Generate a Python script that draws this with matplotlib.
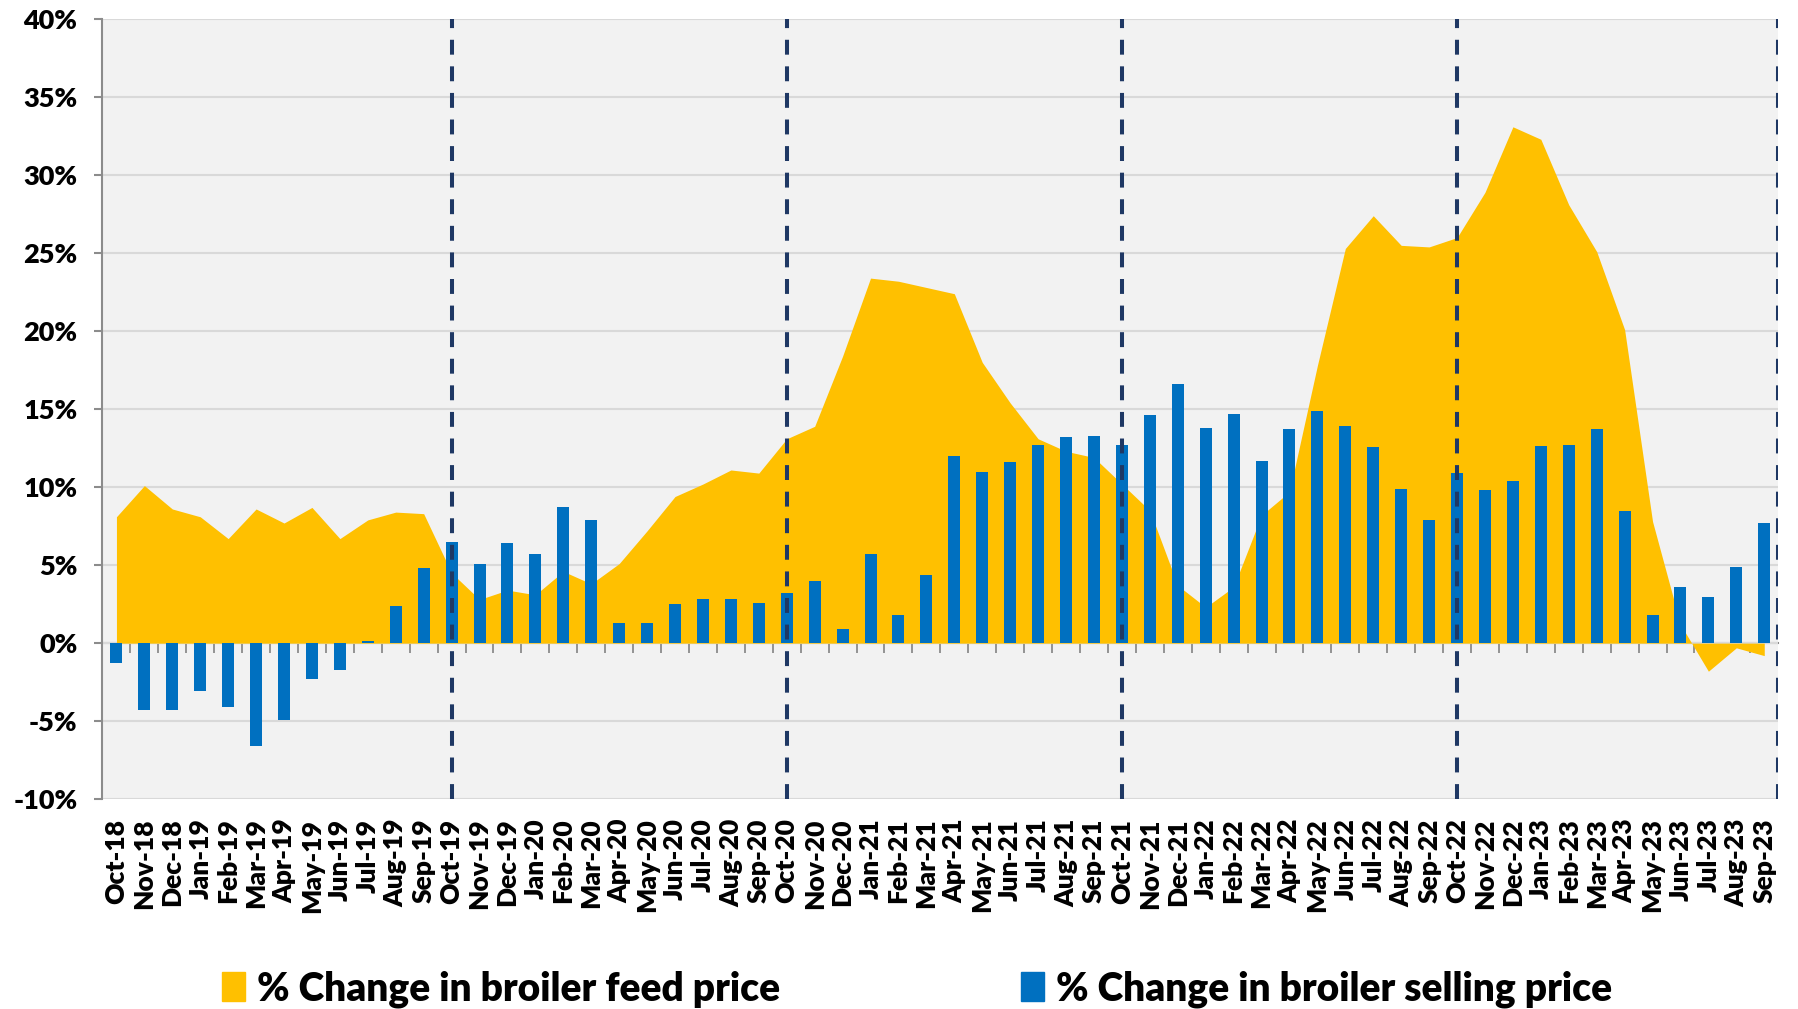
import matplotlib
matplotlib.use("Agg")
import matplotlib.pyplot as plt
import matplotlib.patches as mpatches
from matplotlib.ticker import FuncFormatter, FixedLocator
import numpy as np

# ── Données ──────────────────────────────────────────────────────
months = ["Oct-18", "Nov-18", "Dec-18", "Jan-19", "Feb-19", "Mar-19", "Apr-19", "May-19",
          "Jun-19", "Jul-19", "Aug-19", "Sep-19", "Oct-19", "Nov-19", "Dec-19", "Jan-20",
          "Feb-20", "Mar-20", "Apr-20", "May-20", "Jun-20", "Jul-20", "Aug-20", "Sep-20",
          "Oct-20", "Nov-20", "Dec-20", "Jan-21", "Feb-21", "Mar-21", "Apr-21", "May-21",
          "Jun-21", "Jul-21", "Aug-21", "Sep-21", "Oct-21", "Nov-21", "Dec-21", "Jan-22",
          "Feb-22", "Mar-22", "Apr-22", "May-22", "Jun-22", "Jul-22", "Aug-22", "Sep-22",
          "Oct-22", "Nov-22", "Dec-22", "Jan-23", "Feb-23", "Mar-23", "Apr-23", "May-23",
          "Jun-23", "Jul-23", "Aug-23", "Sep-23"]

feed_change = [8.1, 10.1, 8.6, 8.1, 6.7, 8.6, 7.7, 8.7, 6.7, 7.9, 8.4, 8.3,
               4.5, 2.8, 3.4, 3.1, 4.6, 3.8, 5.1, 7.2, 9.4, 10.2, 11.1, 10.9,
               13.1, 13.9, 18.4, 23.4, 23.2, 22.8, 22.4, 18.0, 15.4, 13.1, 12.3, 11.9,
               10.2, 8.5, 3.7, 2.3, 3.6, 8.2, 9.7, 17.8, 25.3, 27.4, 25.5, 25.4,
               26.0, 28.9, 33.1, 32.3, 28.1, 25.1, 20.1, 7.8, 1.2, -1.8, -0.3, -0.8]

selling_change = [-1.3, -4.3, -4.3, -3.1, -4.1, -6.6, -4.9, -2.3, -1.7, 0.15, 2.35, 4.8,
                  6.5, 5.1, 6.4, 5.7, 8.7, 7.9, 1.3, 1.3, 2.5, 2.85, 2.8, 2.55,
                  3.2, 4.0, 0.9, 5.7, 1.8, 4.4, 12.0, 11.0, 11.6, 12.7, 13.2, 13.3,
                  12.7, 14.6, 16.6, 13.8, 14.7, 11.7, 13.7, 14.9, 13.9, 12.6, 9.9, 7.9,
                  10.9, 9.8, 10.4, 12.65, 12.7, 13.7, 8.5, 1.8, 3.6, 2.95, 4.9, 7.7]

fiscal_starts = ["Oct-19", "Oct-20", "Oct-21", "Oct-22"]

# ── Couleurs ─────────────────────────────────────────────────────
FEED_COLOR = "#FFC000"
SELL_COLOR = "#0070C0"
DASH_COLOR = "#1F3864"
BG_COLOR   = "#F2F2F2"
GRID_COLOR = "#D9D9D9"
AXIS_COLOR = "#8C8C8C"

plt.rcParams["font.family"] = ["Lato", "DejaVu Sans"]
plt.rcParams["font.weight"] = "heavy"

fig = plt.figure(figsize=(17.98, 10.09), dpi=100)
ax  = fig.add_axes([0.057, 0.208, 0.932, 0.773])
ax.set_facecolor(BG_COLOR)

x = np.arange(len(months))

ax.fill_between(x, feed_change, 0, color=FEED_COLOR, linewidth=0, zorder=2)
ax.bar(x, selling_change, width=0.43, color=SELL_COLOR, zorder=3)

# Lignes pointillées (début d'exercice + fin)
dash = (0, (3.7, 2.9))
for m in fiscal_starts:
    ax.axvline(months.index(m), color=DASH_COLOR, lw=2.9, ls=dash, zorder=4)
ax.axvline(len(months) - 0.5, color=DASH_COLOR, lw=2.9, ls=dash, zorder=4)

ax.set_xlim(-0.5, len(months) - 0.5)
ax.set_ylim(-10, 40)
ax.set_yticks(np.arange(-10, 41, 5))
ax.yaxis.set_major_formatter(FuncFormatter(lambda v, p: f"{v:.0f}%"))
ax.grid(axis="y", color=GRID_COLOR, lw=1.5, zorder=0)
ax.set_axisbelow(True)

for s in ["top", "right", "bottom"]:
    ax.spines[s].set_visible(False)
ax.spines["left"].set_color(AXIS_COLOR)
ax.spines["left"].set_linewidth(1.5)
ax.tick_params(axis="y", length=6, width=1.5, color=AXIS_COLOR, labelsize=19.5, pad=12)

ax.set_xticks(x)
ax.set_xticklabels(months, rotation=90, fontsize=19)
ax.tick_params(axis="x", length=0, pad=14)

# Axe horizontal à 0 % avec graduations entre les mois
zero_ax = ax.secondary_xaxis(10 / 50)
zero_ax.spines["bottom"].set_color(AXIS_COLOR)
zero_ax.spines["bottom"].set_linewidth(1.5)
zero_ax.set_xticks([])
zero_ax.xaxis.set_minor_locator(FixedLocator(x[:-1] + 0.5))
zero_ax.tick_params(which="minor", length=7, width=1.3, color=AXIS_COLOR, direction="out")
zero_ax.tick_params(labelbottom=False)

# Légende
patches = [mpatches.Patch(color=FEED_COLOR, label="% Change in broiler feed price"),
           mpatches.Patch(color=SELL_COLOR, label="% Change in broiler selling price")]
fig.legend(handles=patches, loc="center", bbox_to_anchor=(0.51, 0.02), ncol=2,
           frameon=False, fontsize=28, handlelength=0.6, handleheight=0.75,
           handletextpad=0.3, columnspacing=6.2, borderpad=0)

plt.savefig("out.png", dpi=100)
